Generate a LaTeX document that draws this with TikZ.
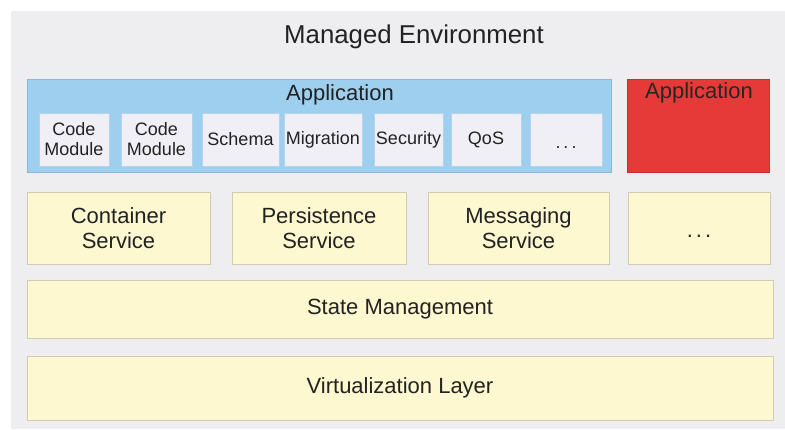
\documentclass[tikz,border=0pt]{standalone}
\usepackage{fontspec}
\setmainfont{Liberation Sans}
\usepackage{tikz}
\definecolor{panelgray}{HTML}{EEEDF0}
\definecolor{appblue}{HTML}{9ECFEE}
\definecolor{appblueline}{HTML}{86B8DA}
\definecolor{modfill}{HTML}{F0EFF5}
\definecolor{appred}{HTML}{E63A38}
\definecolor{svcyellow}{HTML}{FDF8D0}
\definecolor{svcline}{HTML}{CFCBB5}
\definecolor{inkgray}{HTML}{222222}
\newcommand{\hugefont}{\fontsize{25.8}{28}\selectfont}
\newcommand{\bigfont}{\fontsize{22}{26}\selectfont}
\newcommand{\smallfont}{\fontsize{18}{20}\selectfont}
\newcommand{\lowdots}{\raisebox{-9pt}[0pt][0pt]{.\hspace{3pt}.\hspace{3pt}.}}

\begin{document}
\begin{tikzpicture}[x=1pt,y=-1pt,
	layer/.style={draw=svcline, fill=svcyellow, line width=1pt, inner sep=0pt, align=center, font=\bigfont, text=inkgray},
	module/.style={draw=appblueline!60, fill=modfill, line width=0.8pt, inner sep=0pt, align=center, font=\smallfont, text=inkgray, minimum height=53pt},
	label/.style={inner sep=0pt, text=inkgray}]
	\useasboundingbox (0,0) rectangle (785,429);
	\fill[panelgray] (11,11) rectangle (785,429);

	\node[label, font=\hugefont] (title) at (414,37) {Managed Environment};

	% application with its modules
	\node[draw=appblueline, fill=appblue, line width=1pt, minimum width=584pt, minimum height=93pt] (app) at (319,125.5) {};
	\node[label, font=\bigfont] (applabel) at (340,95) {Application};
	\node[module, minimum width=70pt] (codeA) at (74,139.5) {Code\\Module};
	\node[module, minimum width=71pt] (codeB) at (156.5,139.5) {Code\\Module};
	\node[module, minimum width=77pt] (schema) at (240.5,139.5) {Schema};
	\node[module, minimum width=78pt] (migration) at (323,139.5) {Migration};
	\node[module, minimum width=69pt] (security) at (408.5,139.5) {Security};
	\node[module, minimum width=70pt] (qos) at (486,139.5) {QoS};
	\node[module, minimum width=72pt] (moredots) at (566,139.5) {\lowdots};

	% second application
	\node[draw=appred!85!black, fill=appred, line width=0.8pt, minimum width=142pt, minimum height=93pt] (redapp) at (698,125.5) {};
	\node[label, font=\bigfont, text=black!85] (redlabel) at (699,93) {Application};

	% services
	\node[layer, minimum width=183pt, minimum height=72pt] (container) at (118.5,228) {Container\\[-1pt]Service};
	\node[layer, minimum width=174pt, minimum height=72pt] (persistence) at (319,228) {Persistence\\[-1pt]Service};
	\node[layer, minimum width=181pt, minimum height=72pt] (messaging) at (518.5,228) {Messaging\\[-1pt]Service};
	\node[layer, minimum width=142pt, minimum height=72pt] (svcdots) at (699,228) {\lowdots};

	% lower layers
	\node[layer, minimum width=746pt, minimum height=58pt] (state) at (400,309) {State Management};
	\node[layer, minimum width=746pt, minimum height=64pt] (virtual) at (400,388) {Virtualization Layer};
\end{tikzpicture}
\end{document}
